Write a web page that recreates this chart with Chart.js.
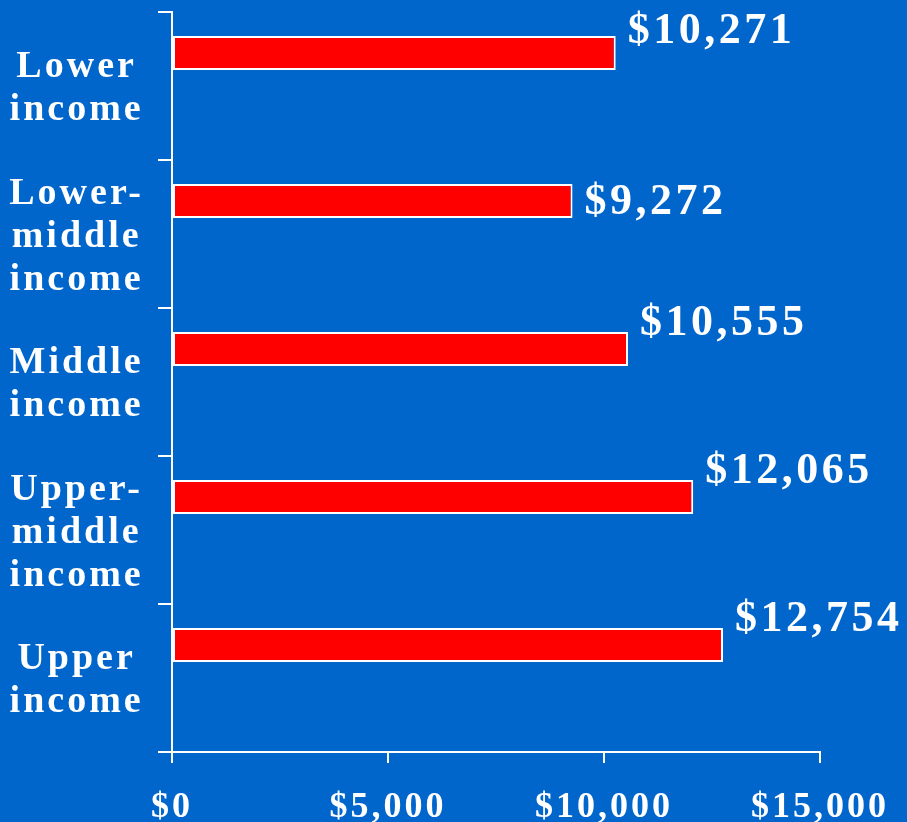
<!DOCTYPE html>
<html>
<head>
<meta charset="utf-8">
<title>Spending by income group</title>
<script src="https://cdn.jsdelivr.net/npm/chart.js@4.4.1/dist/chart.umd.min.js"></script>
<style>
  html, body { margin: 0; padding: 0; background: #0066CC; overflow: hidden; }
  canvas { display: block; }
</style>
</head>
<body>
<canvas id="incomeChart" width="907" height="822"></canvas>
<script>
// DATA
const categories = [
  ['Lower', 'income'],
  ['Lower-', 'middle', 'income'],
  ['Middle', 'income'],
  ['Upper-', 'middle', 'income'],
  ['Upper', 'income']
];
const spending = [10271, 9272, 10555, 12065, 12754];
const tickValues = [0, 5000, 10000, 15000];

const WHITE = '#FFFFFF';
const SERIF = '"Liberation Serif", "Times New Roman", serif';

function money(v) {
  return '$' + Number(v).toLocaleString('en-US');
}

// value labels above/right of each bar + per-axis letter spacing
const labelPlugin = {
  id: 'valueLabels',
  beforeDraw(chart) {
    // x axis (z = 0) is drawn right after this hook
    chart.ctx.letterSpacing = '3px';
  },
  afterDatasetsDraw(chart, args, opts) {
    const ctx = chart.ctx;
    const meta = chart.getDatasetMeta(0);
    ctx.save();
    ctx.letterSpacing = '3.5px';
    ctx.font = 'bold 44px ' + SERIF;
    ctx.fillStyle = WHITE;
    ctx.textAlign = 'left';
    ctx.textBaseline = 'alphabetic';
    meta.data.forEach((bar, i) => {
      ctx.fillText(money(spending[i]), bar.x + 12, bar.y + opts.baseline[i]);
    });
    ctx.restore();
    // y axis (z = 1) is drawn after the datasets
    ctx.letterSpacing = '1.5px';
  },
  afterDraw(chart) {
    chart.ctx.letterSpacing = '0px';
  }
};

new Chart(document.getElementById('incomeChart'), {
  type: 'bar',
  data: {
    labels: categories,
    datasets: [
      {
        data: spending,
        backgroundColor: '#FF0000',
        borderColor: WHITE,
        borderWidth: 2,
        borderSkipped: false,
        categoryPercentage: 0.892,
        barPercentage: 0.515
      },
      {
        // empty slot so the bar sits in the upper part of its band
        data: spending.map(() => null),
        categoryPercentage: 0.892,
        barPercentage: 0.515
      }
    ]
  },
  options: {
    indexAxis: 'y',
    responsive: false,
    animation: false,
    layout: { padding: { top: 12, right: 87, left: 0, bottom: 0 } },
    plugins: {
      legend: { display: false },
      tooltip: { enabled: false },
      valueLabels: { baseline: [-10, 13, -14, -14, -14] }
    },
    scales: {
      x: {
        min: 0,
        max: 15000,
        afterBuildTicks(scale) {
          scale.ticks = tickValues.map(v => ({ value: v }));
        },
        afterFit(scale) {
          scale.height = 70;
          scale.paddingLeft = 0;
          scale.paddingRight = 0;
        },
        grid: {
          drawOnChartArea: false,
          drawTicks: true,
          tickLength: 11,
          color: WHITE,
          lineWidth: 2
        },
        border: { display: true, color: WHITE, width: 2 },
        ticks: {
          color: WHITE,
          padding: 23,
          maxRotation: 0,
          font: { family: SERIF, size: 36, weight: 'bold' },
          callback: v => money(v)
        }
      },
      y: {
        z: 1,
        afterFit(scale) {
          scale.width = 172;
          scale.paddingTop = 0;
          scale.paddingBottom = 0;
        },
        grid: {
          offset: true,
          drawOnChartArea: false,
          drawTicks: true,
          tickLength: 14,
          color: WHITE,
          lineWidth: 2
        },
        border: { display: true, color: WHITE, width: 2 },
        ticks: {
          color: WHITE,
          crossAlign: 'center',
          padding: 23,
          labelOffset: 3,
          font: { family: SERIF, size: 38, weight: 'bold', lineHeight: 1.13 }
        }
      }
    }
  },
  plugins: [labelPlugin]
});
</script>
</body>
</html>
